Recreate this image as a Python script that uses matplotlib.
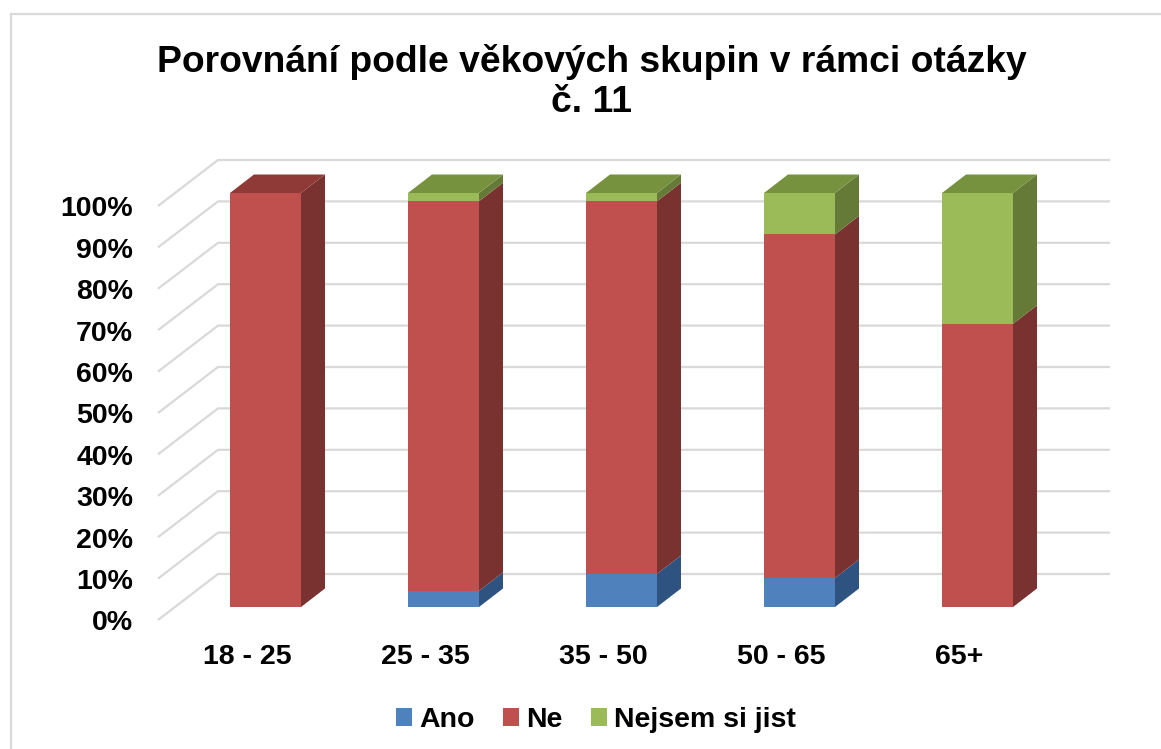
import numpy as np
import matplotlib
matplotlib.use("Agg")
from matplotlib import pyplot as plt
from matplotlib.patches import Patch, Rectangle

plt.rcParams['font.family'] = ['Liberation Sans', 'DejaVu Sans']

# data (percent)
groups = ["18 - 25", "25 - 35", "35 - 50", "50 - 65", "65+"]
ano = [0.0, 3.9, 8.0, 7.0, 0.0]
ne = [100.0, 94.1, 90.0, 83.0, 68.4]
nejsem = [0.0, 2.0, 2.0, 10.0, 31.6]
series_names = ["Ano", "Ne", "Nejsem si jist"]
yticks = [0, 10, 20, 30, 40, 50, 60, 70, 80, 90, 100]

# colours: front, side, top
cols = {
    "Ano": ("#4F81BD", "#2F5380", "#3E6699"),
    "Ne": ("#C0504D", "#7A3230", "#8F3A37"),
    "Nejsem si jist": ("#9BBB59", "#657A37", "#77923F"),
}
grid_c = "#D9D9D9"

W, H = 1161, 749
fig = plt.figure(figsize=(W / 100, H / 100), dpi=100)
ax = fig.add_axes([0, 0, 1, 1])

# pixel layout of the plot: category spacing / y scale
x_first, x_step = 265.5, 178.0
y_zero, y_unit = 607.0, 4.14
ax.set_xlim((0 - x_first) / x_step, (W - x_first) / x_step)
ax.set_ylim((y_zero - H) / y_unit, y_zero / y_unit)
ax.axis("off")

# depth of bars and of the wall (converted to data units)
bw = 71 / x_step
ddx, ddy = 24 / x_step, 18.5 / y_unit
wall_x0, wall_x1 = (158 - x_first) / x_step, (218 - x_first) / x_step
wall_end = (1110 - x_first) / x_step
wall_front, wall_back = (y_zero - 620) / y_unit, (y_zero - 574) / y_unit

# gridlines (back wall + side)
for t in yticks:
    ax.plot([wall_x0, wall_x1, wall_end], [t + wall_front, t + wall_back, t + wall_back],
            color=grid_c, lw=1.6, zorder=0, solid_capstyle="butt")
    ax.text((133 - x_first) / x_step, t + wall_front - 0.8, f"{t}%", ha="right", va="center",
            fontsize=20.5, fontweight="bold")

# stacked 3d bars
x = np.arange(len(groups))
bottom = np.zeros(len(groups))
tops = np.array(ano) + np.array(ne) + np.array(nejsem)
for name, vals in zip(series_names, [ano, ne, nejsem]):
    vals = np.array(vals)
    front, side, top = cols[name]
    ax.bar(x, vals, bw, bottom=bottom, color=front, linewidth=0, zorder=2)
    for i in range(len(groups)):
        if vals[i] <= 0:
            continue
        b, t = bottom[i], bottom[i] + vals[i]
        xr = x[i] + bw / 2
        xl = x[i] - bw / 2
        ax.fill([xr, xr + ddx, xr + ddx, xr], [b, b + ddy, t + ddy, t],
                color=side, lw=0, zorder=2)
        if abs(t - tops[i]) < 1e-6:
            ax.fill([xl, xl + ddx, xr + ddx, xr], [t, t + ddy, t + ddy, t],
                    color=top, lw=0, zorder=2)
    bottom = bottom + vals

# category labels
for i, g in enumerate(groups):
    ax.text(x[i] - 18.5 / x_step, (y_zero - 657) / y_unit, g, ha="center", va="center",
            fontsize=20.5, fontweight="bold")

# title
fig.text(591.5 / W, 1 - 44 / H, "Porovnání podle věkových skupin v rámci otázky\nč. 11",
         ha="center", va="top", fontsize=26.8, fontweight="bold", linespacing=1.2)

# legend
handles = [Patch(facecolor=cols[n][0], edgecolor="none") for n in series_names]
fig.legend(handles, series_names, loc="center", bbox_to_anchor=(596 / W, 1 - 720 / H),
           ncol=3, frameon=False, prop={"weight": "bold", "size": 20.5},
           handlelength=0.55, handleheight=0.55, handletextpad=0.25, columnspacing=1.0,
           borderaxespad=0, borderpad=0)

# chart border
fig.patches.append(Rectangle((11 / W, -0.1), 1.5, 1 - 14 / H + 0.1, transform=fig.transFigure,
                             fill=False, edgecolor=grid_c, lw=1.6))

fig.savefig("out.png", dpi=100)
